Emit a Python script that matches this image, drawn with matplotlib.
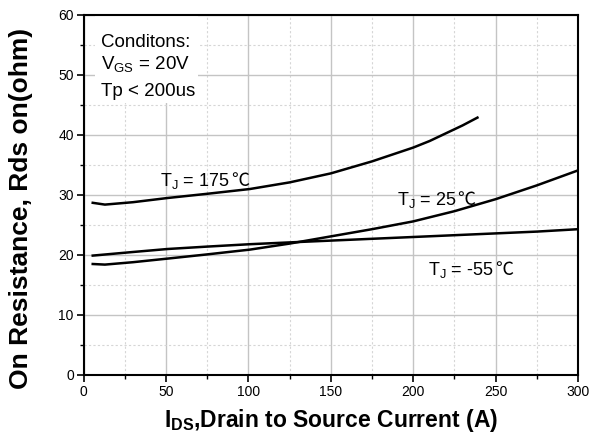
import matplotlib
matplotlib.use("Agg")
import matplotlib.pyplot as plt
from matplotlib.ticker import MultipleLocator
from matplotlib.patches import Rectangle
import matplotlib.transforms as mtransforms

plt.rcParams['font.family'] = ['Liberation Sans', 'DejaVu Sans']
plt.rcParams['mathtext.fontset'] = 'custom'
plt.rcParams['mathtext.rm'] = 'Liberation Sans'
plt.rcParams['mathtext.bf'] = 'Liberation Sans:bold'

# Data
i_175 = [5.6, 13, 30, 51, 75, 101, 125, 150, 175, 200, 210, 220, 230, 239]
r_175 = [28.7, 28.4, 28.8, 29.5, 30.2, 31.0, 32.1, 33.6, 35.6, 37.9, 39.0, 40.3, 41.6, 42.9]

i_25 = [5.6, 13, 30, 51, 75, 101, 125, 150, 175, 200, 225, 250, 275, 300]
r_25 = [18.5, 18.4, 18.8, 19.4, 20.1, 20.9, 21.9, 23.1, 24.3, 25.6, 27.3, 29.3, 31.6, 34.1]

i_m55 = [5.6, 30, 51, 75, 101, 125, 150, 175, 200, 225, 250, 275, 300]
r_m55 = [19.9, 20.5, 21.0, 21.4, 21.8, 22.1, 22.4, 22.7, 23.0, 23.3, 23.6, 23.9, 24.3]

curve_labels = ["T$_\\mathregular{J}$ = 175", "T$_\\mathregular{J}$ = 25", "T$_\\mathregular{J}$ = -55"]
degree_sign = "\u2103"
label_pos = [(46.4, 31.5), (190, 28.3), (209, 16.7)]

cond_lines = ["Conditons:", "V$_\\mathregular{GS}$ = 20V", "Tp < 200us"]
cond_pos = [(10.4, 54.7), (10.4, 50.9), (10.4, 46.5)]

x_ticks = [0, 50, 100, 150, 200, 250, 300]
y_ticks = [0, 10, 20, 30, 40, 50, 60]

fig = plt.figure(figsize=(5.9, 4.43), dpi=100)
ax = fig.add_axes([83.5/590, 1 - 375/443, (578 - 83.5)/590, (375 - 15)/443])

for xs, ys in [(i_175, r_175), (i_25, r_25), (i_m55, r_m55)]:
    ax.plot(xs, ys, color='black', lw=1.8, zorder=3)

ax.set_xlim(0, 300)
ax.set_ylim(0, 60)
ax.set_xticks(x_ticks)
ax.set_yticks(y_ticks)
ax.xaxis.set_minor_locator(MultipleLocator(25))
ax.yaxis.set_minor_locator(MultipleLocator(5))
ax.grid(which='major', color='#c4c4c4', lw=1.0, ls='-')
ax.grid(which='minor', color='#d6d6d6', lw=0.8, ls=(0, (2, 2)))
ax.set_axisbelow(True)
ax.tick_params(which='major', direction='out', length=5, width=1.2, labelsize=10, pad=2)
ax.tick_params(which='minor', direction='out', length=3, width=1.0)
for s in ax.spines.values():
    s.set_linewidth(1.5)

ax.set_xlabel("I$_\\mathbf{DS}$,Drain to Source Current (A)", fontsize=16.5, fontweight='bold')
ax.xaxis.set_label_coords(0.5, -0.088)
ax.set_ylabel("On Resistance, Rds on(ohm)", fontsize=19, fontweight='bold')
ax.yaxis.set_label_coords(-0.102, 0.464)

# white area behind the conditions block (hides the grid there)
ax.add_patch(Rectangle((0.023, 0.756), 0.209, 0.244, transform=ax.transAxes,
                       facecolor='white', edgecolor='none', zorder=1))
for txt, (x, y) in zip(cond_lines, cond_pos):
    ax.text(x, y, txt, fontsize=13.5, va='baseline', ha='left', zorder=4)

fig.canvas.draw()
renderer = fig.canvas.get_renderer()
for txt, (x, y) in zip(curve_labels, label_pos):
    t = ax.text(x, y, txt, fontsize=13, va='baseline', ha='left', zorder=4)
    ext = t.get_window_extent(renderer)
    trans = mtransforms.offset_copy(ax.transData, fig=fig, x=ext.width + 1, y=0, units='dots')
    ax.text(x, y, degree_sign, fontsize=13, va='baseline', ha='left', zorder=4,
            transform=trans, family=['Noto Sans CJK SC', 'DejaVu Sans'])

fig.savefig("out.png", dpi=100)
